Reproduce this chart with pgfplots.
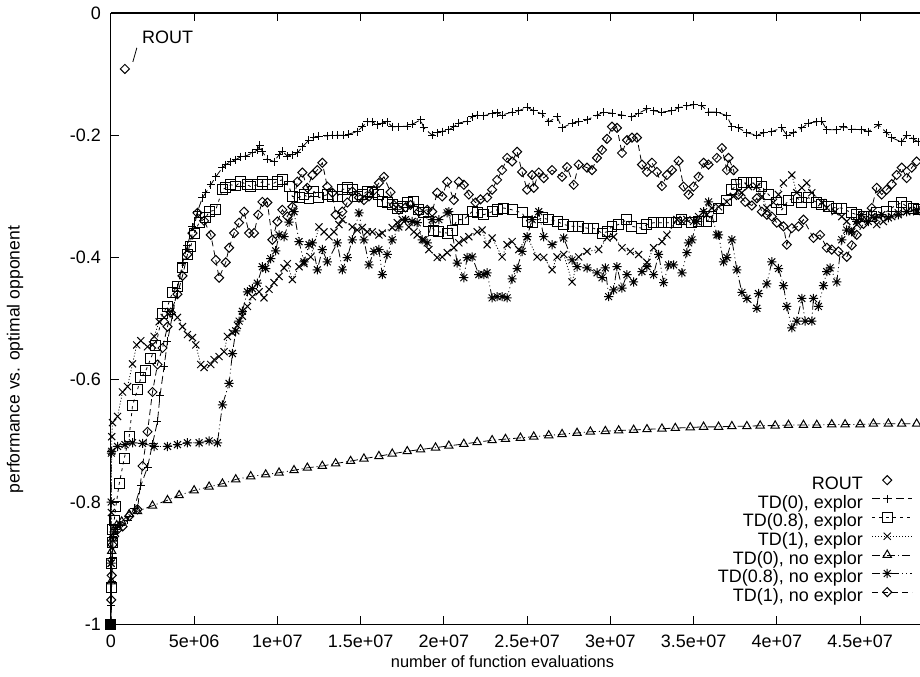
\documentclass[border=0pt]{standalone}
\usepackage{fontspec}
\setmainfont{Liberation Sans}
\usepackage{pgfplots}
\pgfplotsset{compat=1.18}
\pgfdeclareplotmark{gpast}{%
  \pgfpathmoveto{\pgfqpoint{-\pgfplotmarksize}{0pt}}\pgfpathlineto{\pgfqpoint{\pgfplotmarksize}{0pt}}%
  \pgfpathmoveto{\pgfqpoint{0pt}{-\pgfplotmarksize}}\pgfpathlineto{\pgfqpoint{0pt}{\pgfplotmarksize}}%
  \pgfpathmoveto{\pgfqpoint{-.75\pgfplotmarksize}{-.75\pgfplotmarksize}}\pgfpathlineto{\pgfqpoint{.75\pgfplotmarksize}{.75\pgfplotmarksize}}%
  \pgfpathmoveto{\pgfqpoint{-.75\pgfplotmarksize}{.75\pgfplotmarksize}}\pgfpathlineto{\pgfqpoint{.75\pgfplotmarksize}{-.75\pgfplotmarksize}}%
  \pgfusepathqstroke}
\begin{document}
\begin{tikzpicture}[font=\fontsize{9pt}{11pt}\selectfont]
\begin{axis}[name=ax, scale only axis, width=405pt, height=306pt,
  xmin=0, xmax=48.6, ymin=-1, ymax=0,
  axis y line*=left,
  xtick={0,5,10,15,20,25,30,35,40,45},
  xticklabels={0,5e+06,1e+07,1.5e+07,2e+07,2.5e+07,3e+07,3.5e+07,4e+07,4.5e+07},
  ytick={-1,-0.8,-0.6,-0.4,-0.2,0},
  yticklabels={-1,-0.8,-0.6,-0.4,-0.2,0},
  major tick length=4pt, tick style={black, line width=0.5pt},
  axis line style={line width=0.6pt},
  xticklabel style={yshift=-2pt},
  yticklabel style={xshift=-1.5pt},
  xlabel={number of function evaluations},
  ylabel={performance vs. optimal opponent},
  xlabel style={at={(axis description cs:0.484,0)}, anchor=center, yshift=-18.5pt, font=\fontsize{8.2pt}{10pt}\selectfont},
  ylabel style={at={(axis description cs:-0.1185,0.433)}, anchor=center, font=\fontsize{8.8pt}{10pt}\selectfont},
  legend style={draw=none, fill=none, at={(1,0)}, anchor=south east, xshift=-3.5pt, yshift=9pt,
    legend cell align=right, inner sep=0pt, row sep=0pt,
    font=\fontsize{9pt}{10pt}\selectfont,
    nodes={inner sep=0.5pt, text height=6.5pt, text depth=1.8pt}},
  legend plot pos=right,
  legend image code/.code={\path (-4pt,2.3pt); \draw[mark repeat=2,mark phase=2,#1] plot coordinates {(0pt,2.3pt) (7.5pt,2.3pt) (20pt,2.3pt)};},
  every axis plot/.append style={line width=0.4pt, black},
]
% ROUT
\addplot[only marks, mark=square, mark size=1.6pt, mark options={rotate=45, line width=0.5pt}] coordinates {(0.84,-0.0915)};
\addlegendentry{ROUT}
% TD(0), explor
\addplot[dash pattern=on 4pt off 2pt, mark=+, mark size=2pt, mark options={solid, line width=0.5pt}] coordinates {
(0,-1) (0.02,-0.97) (0.05,-0.93) (0.1,-0.89) (0.15,-0.856) (0.3,-0.845) (0.6,-0.838) (1.0,-0.83) (1.4,-0.81) (1.8,-0.773) (2.2,-0.743) (2.5,-0.705) (2.8,-0.668) (2.95,-0.626) (3.2,-0.578) (3.4,-0.537) (3.7,-0.494) (4.0,-0.45) (4.3,-0.41) (4.6,-0.38) (4.9,-0.35) (5.2,-0.325) (5.5,-0.302) (5.7,-0.294) (6.0,-0.281) (6.3,-0.268) (6.7,-0.253) (6.9,-0.248) (7.2,-0.243) (7.5,-0.24) (7.8,-0.235) (8.1,-0.234) (8.5,-0.229) (8.8,-0.224) (8.95,-0.216) (9.1,-0.227) (9.4,-0.239) (9.8,-0.243) (10.1,-0.232) (10.3,-0.226) (10.6,-0.234) (10.9,-0.232) (11.2,-0.229) (11.5,-0.219) (11.9,-0.208) (12.2,-0.203) (12.5,-0.202) (13.0,-0.201) (13.3,-0.2) (13.6,-0.2) (14.0,-0.2) (14.3,-0.198) (14.8,-0.194) (15.1,-0.186) (15.4,-0.178) (15.7,-0.178) (16.0,-0.183) (16.3,-0.18) (16.6,-0.178) (16.9,-0.186) (17.3,-0.186) (17.8,-0.185) (18.1,-0.182) (18.6,-0.175) (18.8,-0.188) (19.3,-0.2) (19.6,-0.196) (19.9,-0.194) (20.3,-0.191) (20.6,-0.186) (20.9,-0.18) (21.4,-0.177) (21.7,-0.17) (22.0,-0.167) (22.4,-0.168) (22.9,-0.165) (23.2,-0.163) (23.5,-0.167) (24.1,-0.162) (24.5,-0.16) (25.0,-0.154) (25.4,-0.16) (25.9,-0.165) (26.3,-0.178) (26.8,-0.17) (27.1,-0.188) (27.7,-0.18) (28.1,-0.178) (28.6,-0.175) (29.2,-0.167) (29.6,-0.162) (30.1,-0.164) (30.7,-0.167) (31.3,-0.17) (31.7,-0.164) (32.2,-0.157) (32.6,-0.16) (33.1,-0.162) (33.7,-0.16) (34.1,-0.155) (34.6,-0.152) (35.0,-0.15) (35.5,-0.152) (35.9,-0.162) (36.4,-0.162) (37.0,-0.168) (37.3,-0.186) (37.7,-0.188) (38.2,-0.196) (38.8,-0.2) (39.2,-0.196) (39.7,-0.194) (40.3,-0.188) (40.6,-0.2) (41.0,-0.196) (41.5,-0.188) (41.9,-0.18) (42.4,-0.178) (42.7,-0.177) (43.0,-0.191) (43.6,-0.191) (44.0,-0.186) (44.5,-0.19) (45.1,-0.191) (45.5,-0.194) (46.1,-0.183) (46.6,-0.196) (46.9,-0.204) (47.5,-0.211) (47.8,-0.2) (48.2,-0.206) (48.5,-0.211)
};
\addlegendentry{TD(0), explor}
% TD(0.8), explor
\addplot[dash pattern=on 1.5pt off 2pt, mark=square, mark size=2.5pt, mark options={solid, line width=0.5pt}] coordinates {
(0,-1) (0.02,-0.94) (0.05,-0.9) (0.08,-0.866) (0.12,-0.845) (0.2,-0.83) (0.3,-0.807) (0.5,-0.77) (0.8,-0.729) (1.1,-0.693) (1.3,-0.642) (1.6,-0.616) (1.8,-0.597) (2.1,-0.585) (2.4,-0.565) (2.7,-0.544) (3.1,-0.492) (3.4,-0.48) (3.7,-0.457) (4.0,-0.447) (4.3,-0.417) (4.6,-0.395) (4.8,-0.382) (5.0,-0.36) (5.3,-0.343) (5.7,-0.335) (5.9,-0.325) (6.3,-0.322) (6.7,-0.289) (6.9,-0.286) (7.2,-0.281) (7.5,-0.283) (7.8,-0.276) (8.2,-0.281) (8.4,-0.284) (8.8,-0.281) (9.1,-0.276) (9.4,-0.28) (9.7,-0.28) (10.0,-0.275) (10.3,-0.273) (10.7,-0.284) (10.9,-0.3) (11.3,-0.302) (11.6,-0.297) (11.9,-0.303) (12.2,-0.292) (12.5,-0.302) (13.0,-0.297) (13.3,-0.3) (13.6,-0.3) (13.9,-0.289) (14.2,-0.286) (14.5,-0.289) (14.8,-0.3) (15.1,-0.297) (15.4,-0.292) (15.7,-0.294) (16.1,-0.297) (16.3,-0.309) (16.6,-0.31) (16.9,-0.313) (17.2,-0.319) (17.5,-0.317) (17.8,-0.31) (18.2,-0.309) (18.5,-0.322) (18.8,-0.327) (19.1,-0.341) (19.4,-0.355) (19.7,-0.358) (20.2,-0.36) (20.5,-0.355) (20.8,-0.338) (21.2,-0.338) (21.7,-0.325) (22.0,-0.327) (22.4,-0.33) (22.9,-0.325) (23.2,-0.322) (23.6,-0.319) (24.1,-0.322) (24.7,-0.327) (25.0,-0.341) (25.3,-0.343) (25.9,-0.335) (26.3,-0.338) (26.8,-0.341) (27.2,-0.346) (27.7,-0.349) (28.1,-0.349) (28.6,-0.352) (29.0,-0.352) (29.5,-0.36) (29.8,-0.358) (30.1,-0.349) (30.5,-0.346) (31.0,-0.338) (31.3,-0.349) (31.9,-0.352) (32.2,-0.346) (32.6,-0.343) (33.1,-0.343) (33.5,-0.343) (34.0,-0.343) (34.3,-0.338) (34.9,-0.343) (35.3,-0.341) (35.8,-0.341) (36.1,-0.333) (36.5,-0.319) (37.0,-0.306) (37.3,-0.289) (37.6,-0.281) (38.0,-0.278) (38.5,-0.278) (38.8,-0.278) (39.1,-0.284) (39.5,-0.297) (40.0,-0.31) (40.3,-0.322) (40.7,-0.306) (41.2,-0.302) (41.5,-0.31) (41.9,-0.302) (42.4,-0.31) (42.7,-0.313) (43.1,-0.317) (43.6,-0.319) (43.9,-0.319) (44.5,-0.327) (44.8,-0.33) (45.2,-0.333) (45.7,-0.333) (46.0,-0.327) (46.6,-0.325) (47.0,-0.317) (47.5,-0.31) (47.8,-0.317) (48.2,-0.319) (48.5,-0.322)
};
\addlegendentry{TD(0.8), explor}
% TD(1), explor
\addplot[dash pattern=on 0.5pt off 1pt, mark=x, mark size=2.5pt, mark options={solid, line width=0.5pt}] coordinates {
(0,-1) (0.02,-0.9) (0.03,-0.817) (0.05,-0.693) (0.1,-0.67) (0.4,-0.66) (0.7,-0.62) (1.0,-0.611) (1.3,-0.574) (1.55,-0.543) (1.8,-0.536) (2.2,-0.546) (2.5,-0.543) (2.6,-0.529) (2.9,-0.505) (3.2,-0.498) (3.6,-0.488) (4.0,-0.498) (4.3,-0.513) (4.6,-0.526) (4.9,-0.531) (5.1,-0.543) (5.4,-0.575) (5.6,-0.58) (6.0,-0.575) (6.2,-0.567) (6.5,-0.562) (6.8,-0.554) (7.0,-0.529) (7.3,-0.523) (7.6,-0.511) (7.9,-0.496) (8.2,-0.48) (8.5,-0.464) (8.9,-0.456) (9.2,-0.466) (9.5,-0.452) (9.8,-0.441) (10.1,-0.431) (10.4,-0.417) (10.6,-0.41) (10.9,-0.436) (11.3,-0.415) (11.6,-0.41) (12.0,-0.399) (12.5,-0.35) (12.8,-0.358) (13.1,-0.366) (13.4,-0.358) (13.7,-0.346) (13.9,-0.338) (14.5,-0.35) (14.8,-0.355) (15.1,-0.351) (15.4,-0.358) (15.7,-0.358) (16.1,-0.363) (16.3,-0.36) (16.9,-0.351) (17.2,-0.343) (17.5,-0.338) (17.9,-0.35) (18.2,-0.358) (18.4,-0.363) (18.8,-0.371) (19.1,-0.387) (19.6,-0.4) (19.9,-0.399) (20.2,-0.392) (20.6,-0.384) (20.9,-0.376) (21.2,-0.371) (21.5,-0.366) (22.0,-0.358) (22.3,-0.355) (22.6,-0.379) (22.9,-0.368) (23.5,-0.399) (23.8,-0.379) (24.1,-0.374) (24.5,-0.387) (25.0,-0.366) (25.6,-0.399) (26.0,-0.4) (26.5,-0.42) (26.8,-0.399) (27.2,-0.395) (27.7,-0.44) (28.1,-0.399) (28.6,-0.39) (29.3,-0.387) (29.8,-0.368) (30.2,-0.366) (30.7,-0.384) (31.2,-0.39) (31.7,-0.395) (32.2,-0.408) (32.6,-0.384) (33.1,-0.374) (33.4,-0.363) (34.0,-0.338) (34.3,-0.341) (34.6,-0.338) (35.0,-0.341) (35.3,-0.333) (35.8,-0.33) (36.1,-0.319) (36.5,-0.317) (37.0,-0.309) (37.4,-0.3) (37.9,-0.294) (38.3,-0.284) (38.8,-0.284) (39.1,-0.3) (39.4,-0.319) (39.8,-0.31) (40.1,-0.297) (40.4,-0.278) (40.9,-0.265) (41.2,-0.294) (41.5,-0.286) (41.8,-0.278) (42.1,-0.294) (42.7,-0.31) (43.0,-0.319) (43.5,-0.325) (43.9,-0.333) (44.2,-0.341) (44.5,-0.355) (44.8,-0.346) (45.1,-0.338) (45.7,-0.333) (46.0,-0.346) (46.4,-0.341) (46.9,-0.333) (47.3,-0.327) (47.8,-0.325) (48.4,-0.325)
};
\addlegendentry{TD(1), explor}
% TD(0), no explor
\addplot[dash pattern=on 4pt off 1.5pt on 0.5pt off 1.5pt, mark=triangle, mark size=2.4pt, mark options={solid, line width=0.5pt}] coordinates {
(0,-1) (0.02,-0.93) (0.05,-0.88) (0.1,-0.86) (0.2,-0.845) (0.35,-0.838) (0.65,-0.832) (1.1,-0.82) (1.6,-0.815) (2.5,-0.806) (3.4,-0.797) (4.1,-0.789) (5.0,-0.781) (5.9,-0.775) (6.7,-0.77) (7.5,-0.763) (8.4,-0.758) (9.3,-0.755) (10.1,-0.752) (11.0,-0.748) (11.8,-0.744) (12.7,-0.741) (13.5,-0.737) (14.4,-0.733) (15.2,-0.729) (16.1,-0.725) (16.9,-0.721) (17.8,-0.717) (18.6,-0.714) (19.5,-0.711) (20.3,-0.708) (21.2,-0.705) (22.0,-0.702) (22.9,-0.699) (23.7,-0.697) (24.6,-0.695) (25.4,-0.693) (26.3,-0.691) (27.1,-0.689) (28.0,-0.687) (28.8,-0.685) (29.7,-0.684) (30.5,-0.683) (31.4,-0.682) (32.2,-0.681) (33.1,-0.68) (33.9,-0.679) (34.8,-0.678) (35.6,-0.677) (36.5,-0.677) (37.3,-0.676) (38.2,-0.676) (39.0,-0.675) (39.9,-0.675) (40.7,-0.674) (41.6,-0.674) (42.4,-0.674) (43.3,-0.673) (44.1,-0.673) (45.0,-0.673) (45.8,-0.672) (46.7,-0.672) (47.5,-0.672) (48.4,-0.672)
};
\addlegendentry{TD(0), no explor}
% TD(0.8), no explor
\addplot[dash pattern=on 4pt off 1.5pt on 0.5pt off 1.5pt on 0.5pt off 1.5pt, mark=gpast, mark size=2.3pt, mark options={solid, line width=0.5pt}] coordinates {
(0,-1) (0.01,-0.9) (0.02,-0.8) (0.03,-0.72) (0.05,-0.717) (0.4,-0.709) (0.85,-0.706) (1.3,-0.703) (1.9,-0.704) (2.6,-0.709) (3.4,-0.709) (4.0,-0.706) (4.6,-0.703) (5.3,-0.703) (5.9,-0.7) (6.4,-0.703) (6.7,-0.641) (7.1,-0.606) (7.3,-0.557) (7.5,-0.52) (7.7,-0.504) (7.9,-0.488) (8.2,-0.456) (8.5,-0.451) (8.8,-0.442) (9.1,-0.415) (9.3,-0.418) (9.6,-0.402) (9.9,-0.389) (10.1,-0.363) (10.4,-0.366) (10.7,-0.342) (11.0,-0.325) (11.3,-0.374) (11.6,-0.407) (11.9,-0.379) (12.1,-0.376) (12.4,-0.42) (12.7,-0.387) (13.0,-0.407) (13.6,-0.376) (13.9,-0.42) (14.2,-0.4) (14.5,-0.371) (14.9,-0.327) (15.2,-0.371) (15.5,-0.412) (15.8,-0.39) (16.1,-0.387) (16.3,-0.428) (16.6,-0.395) (16.9,-0.371) (17.3,-0.35) (17.7,-0.338) (18.1,-0.341) (18.4,-0.343) (18.7,-0.371) (19.0,-0.376) (19.3,-0.338) (19.7,-0.338) (20.2,-0.327) (20.3,-0.325) (20.8,-0.409) (21.2,-0.433) (21.4,-0.4) (21.7,-0.399) (22.1,-0.428) (22.4,-0.428) (22.6,-0.425) (22.9,-0.466) (23.2,-0.464) (23.5,-0.464) (23.8,-0.466) (24.1,-0.435) (24.4,-0.418) (24.7,-0.39) (25.0,-0.366) (25.3,-0.338) (25.7,-0.325) (26.0,-0.366) (26.5,-0.379) (27.2,-0.368) (27.7,-0.404) (28.0,-0.415) (28.6,-0.417) (29.2,-0.425) (29.5,-0.433) (29.7,-0.417) (29.9,-0.464) (30.2,-0.453) (30.4,-0.415) (30.7,-0.45) (31.0,-0.428) (31.4,-0.44) (31.9,-0.423) (32.2,-0.415) (32.6,-0.428) (32.9,-0.395) (33.2,-0.441) (33.5,-0.412) (33.8,-0.412) (34.3,-0.425) (34.6,-0.392) (34.7,-0.376) (34.9,-0.371) (35.2,-0.341) (35.6,-0.325) (35.9,-0.309) (36.4,-0.363) (36.5,-0.363) (36.8,-0.407) (37.0,-0.4) (37.3,-0.371) (37.6,-0.42) (37.9,-0.457) (38.2,-0.467) (38.8,-0.483) (38.9,-0.459) (39.4,-0.443) (39.7,-0.407) (40.1,-0.418) (40.4,-0.446) (40.6,-0.48) (40.9,-0.515) (41.2,-0.504) (41.5,-0.467) (41.7,-0.504) (42.1,-0.504) (42.2,-0.467) (42.5,-0.48) (42.8,-0.446) (43.0,-0.423) (43.2,-0.417) (43.6,-0.44) (43.9,-0.371) (44.2,-0.355) (44.5,-0.358) (44.8,-0.341) (45.1,-0.33) (45.5,-0.341) (45.9,-0.335) (46.3,-0.33) (46.7,-0.335) (47.3,-0.33) (47.8,-0.325) (48.4,-0.322)
};
\addlegendentry{TD(0.8), no explor}
% TD(1), no explor
\addplot[dash pattern=on 3pt off 2pt, mark=square, mark size=1.6pt, mark options={solid, rotate=45, line width=0.5pt}] coordinates {
(0,-1) (0.02,-0.96) (0.05,-0.92) (0.1,-0.87) (0.2,-0.856) (0.4,-0.845) (0.7,-0.84) (1.1,-0.823) (1.6,-0.812) (1.9,-0.741) (2.2,-0.685) (2.5,-0.62) (2.8,-0.575) (3.1,-0.548) (3.4,-0.513) (3.6,-0.49) (4.0,-0.46) (4.3,-0.43) (4.6,-0.395) (4.9,-0.36) (5.2,-0.327) (5.6,-0.34) (6.0,-0.363) (6.3,-0.404) (6.5,-0.433) (6.9,-0.408) (7.1,-0.384) (7.4,-0.36) (7.7,-0.343) (8.0,-0.325) (8.3,-0.36) (8.6,-0.36) (8.85,-0.33) (9.1,-0.309) (9.4,-0.31) (9.7,-0.371) (10.0,-0.341) (10.3,-0.322) (10.6,-0.333) (10.9,-0.317) (11.2,-0.276) (11.5,-0.261) (11.8,-0.286) (12.1,-0.265) (12.4,-0.257) (12.7,-0.245) (13.0,-0.284) (13.3,-0.294) (13.5,-0.33) (13.9,-0.325) (14.2,-0.31) (14.5,-0.292) (14.9,-0.302) (15.2,-0.306) (15.5,-0.3) (15.8,-0.29) (16.1,-0.278) (16.4,-0.268) (16.8,-0.293) (17.0,-0.314) (17.3,-0.322) (17.7,-0.318) (18.0,-0.314) (18.5,-0.325) (19.0,-0.322) (19.3,-0.325) (19.6,-0.294) (19.9,-0.3) (20.2,-0.276) (20.6,-0.306) (20.9,-0.276) (21.2,-0.281) (21.5,-0.297) (21.9,-0.31) (22.2,-0.305) (22.6,-0.302) (22.9,-0.289) (23.2,-0.273) (23.5,-0.257) (23.8,-0.237) (24.1,-0.243) (24.4,-0.227) (24.7,-0.26) (25.0,-0.289) (25.3,-0.265) (25.4,-0.286) (25.7,-0.261) (26.0,-0.27) (26.5,-0.257) (27.1,-0.268) (27.4,-0.252) (27.8,-0.281) (28.1,-0.248) (28.6,-0.253) (28.9,-0.257) (29.2,-0.237) (29.5,-0.224) (29.8,-0.206) (30.1,-0.186) (30.4,-0.188) (30.7,-0.229) (31.0,-0.208) (31.3,-0.204) (31.6,-0.204) (31.9,-0.248) (32.2,-0.26) (32.5,-0.245) (32.8,-0.26) (33.1,-0.283) (33.4,-0.265) (33.7,-0.257) (34.1,-0.242) (34.4,-0.284) (34.7,-0.297) (35.0,-0.284) (35.3,-0.268) (35.6,-0.245) (35.9,-0.248) (36.4,-0.237) (36.7,-0.221) (37.0,-0.257) (37.1,-0.237) (37.4,-0.257) (37.7,-0.297) (38.1,-0.309) (38.5,-0.315) (38.8,-0.303) (39.1,-0.325) (39.4,-0.33) (39.7,-0.333) (40.0,-0.343) (40.4,-0.349) (40.6,-0.379) (40.9,-0.352) (41.3,-0.349) (41.6,-0.338) (42.2,-0.368) (42.6,-0.363) (43.0,-0.384) (43.3,-0.387) (43.7,-0.39) (44.2,-0.399) (44.5,-0.38) (44.8,-0.363) (45.2,-0.345) (45.7,-0.319) (46.0,-0.286) (46.3,-0.297) (46.6,-0.289) (46.9,-0.28) (47.2,-0.265) (47.5,-0.253) (47.8,-0.27) (48.1,-0.253) (48.4,-0.243)
};
\addlegendentry{TD(1), no explor}
% overlapping start points at the origin
\addplot[forget plot, only marks, mark=square*, mark size=2pt] coordinates {(0,-1)};
\draw[line width=0.4pt] (axis cs:1.32,-0.080) -- (axis cs:1.56,-0.057);
\node[anchor=base west, inner sep=0pt] at (axis cs:1.86,-0.0507) {ROUT};
\end{axis}
\pgfresetboundingbox
\path[use as bounding box] ([xshift=-55.5pt,yshift=-26pt]ax.south west) rectangle ([yshift=6.5pt]ax.north east);
\end{tikzpicture}
\end{document}
